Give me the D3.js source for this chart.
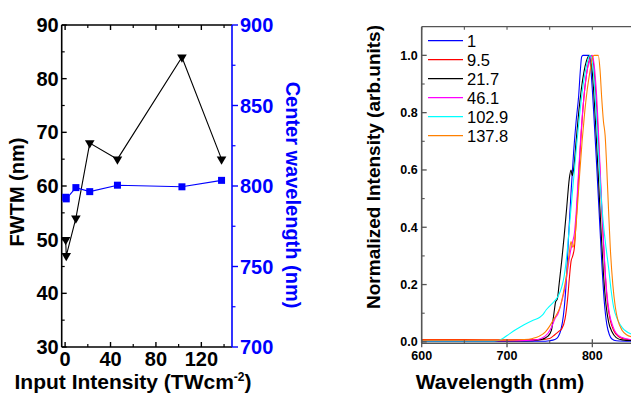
<!DOCTYPE html>
<html>
<head>
<meta charset="utf-8">
<script src="https://cdn.jsdelivr.net/npm/d3@7"></script>
<style>
  html, body { margin: 0; padding: 0; background: #fff; }
  svg { display: block; font-family: Arial, "Liberation Sans", sans-serif; }
</style>
</head>
<body>
<svg id="chart" width="631" height="396"></svg>
<script>
// ---- Left panel: FWTM and centre wavelength vs input intensity ----
const intensity = [0.5, 1, 9.5, 21.7, 46.1, 102.9, 137.8];
const fwtm = [50, 47, 54, 68, 65, 84, 65];
const centerWl = [793, 792, 799, 796.5, 800.5, 799.5, 803.5];

const leftXTicks = [0, 40, 80, 120];
const leftXMinor = [20, 60, 100, 140];
const fwtmTicks = [30, 40, 50, 60, 70, 80, 90];
const fwtmMinor = [35, 45, 55, 65, 75, 85];
const wlTicks = [700, 750, 800, 850, 900];
const wlMinor = [725, 775, 825, 875];

// ---- Right panel: normalized spectra, one per input intensity ----
const specLabels = ["1", "9.5", "21.7", "46.1", "102.9", "137.8"];
const specColors = ["#0000ff", "#ff0000", "#000000", "#ff00ff", "#00ffff", "#ff8000"];

const spec1 = [[600,0.002],[700,0.002],[740,0.002],[750,0.004],[756,0.008],[760,0.018],[763,0.04],[766,0.09],[768,0.15],[770,0.24],[772,0.36],[775,0.52],[778,0.66],[781,0.77],[784,0.86],[786,0.95],[787.5,0.995],[789,1.0],[796,1.0],[798,0.96],[800,0.88],[802,0.78],[805,0.62],[808,0.45],[811,0.28],[814,0.14],[817,0.06],[820,0.025],[823,0.01],[828,0.004],[850,0.002]];
const spec9_5 = [[600,0.008],[650,0.008],[700,0.007],[740,0.008],[750,0.012],[756,0.025],[760,0.035],[764,0.045],[768,0.08],[771,0.15],[773,0.22],[775,0.28],[777,0.3],[779,0.33],[781,0.42],[784,0.58],[787,0.73],[790,0.85],[793,0.93],[796,0.98],[799,1.0],[801,0.98],[803,0.91],[806,0.77],[809,0.59],[812,0.4],[815,0.24],[818,0.13],[821,0.075],[825,0.04],[830,0.02],[835,0.012],[850,0.006]];
const spec21_7 = [[600,0.003],[700,0.003],[730,0.004],[740,0.008],[748,0.02],[752,0.04],[755,0.1],[757,0.14],[759,0.15],[761,0.2],[764,0.28],[767,0.37],[770,0.47],[773,0.57],[775,0.6],[776.5,0.58],[778,0.6],[781,0.7],[784,0.8],[787,0.88],[790,0.94],[793,0.98],[797,1.0],[799,0.97],[801,0.9],[804,0.75],[807,0.58],[810,0.4],[813,0.24],[816,0.13],[819,0.07],[823,0.035],[828,0.015],[835,0.007],[850,0.004]];
const spec46_1 = [[600,0.004],[700,0.004],[730,0.006],[740,0.012],[748,0.03],[752,0.05],[756,0.08],[760,0.1],[764,0.14],[768,0.19],[771,0.25],[774,0.31],[777,0.35],[779,0.38],[781,0.45],[784,0.6],[787,0.74],[790,0.85],[793,0.93],[797,0.985],[800,1.0],[802,0.97],[805,0.86],[808,0.68],[811,0.48],[814,0.3],[817,0.17],[820,0.1],[824,0.055],[828,0.03],[835,0.015],[845,0.008],[850,0.006]];
const spec102_9 = [[600,0.003],[680,0.003],[690,0.005],[695,0.012],[700,0.022],[710,0.042],[720,0.06],[730,0.075],[738,0.085],[742,0.095],[746,0.112],[750,0.125],[755,0.14],[760,0.16],[764,0.19],[767,0.23],[770,0.3],[773,0.4],[776,0.5],[779,0.6],[782,0.7],[785,0.79],[788,0.87],[791,0.93],[794,0.975],[797,1.0],[799,0.99],[801,0.95],[804,0.82],[807,0.66],[810,0.52],[813,0.41],[816,0.33],[819,0.26],[822,0.18],[825,0.12],[830,0.075],[835,0.05],[840,0.036],[845,0.028],[850,0.024]];
const spec137_8 = [[600,0.006],[700,0.006],[720,0.008],[730,0.012],[738,0.02],[745,0.035],[750,0.055],[755,0.08],[758,0.095],[762,0.12],[766,0.17],[770,0.24],[773,0.31],[775,0.35],[777,0.33],[779,0.35],[782,0.45],[785,0.58],[788,0.7],[791,0.8],[794,0.88],[797,0.94],[800,0.99],[802,1.0],[807,1.0],[809,0.95],[811,0.85],[813,0.77],[815,0.72],[817,0.6],[819,0.46],[821,0.33],[824,0.2],[827,0.12],[830,0.075],[835,0.04],[840,0.025],[850,0.015]];
const spectra = [spec1, spec9_5, spec21_7, spec46_1, spec102_9, spec137_8];

const specXTicks = [600, 700, 800];
const specXMinor = [650, 750, 850];
const specYTicks = [0.0, 0.2, 0.4, 0.6, 0.8, 1.0];
const specYMinor = [0.1, 0.3, 0.5, 0.7, 0.9];

const svg = d3.select("#chart");

// ================= Left panel =================
const xL = d3.scaleLinear().domain([-3, 147]).range([61.7, 232]);
const yL = d3.scaleLinear().domain([30, 90]).range([347, 25]);
const yR = d3.scaleLinear().domain([700, 900]).range([347, 25]);

const left = svg.append("g");
const [lx0, lx1] = xL.range();
const [ly0, ly1] = yL.range();

function tickLines(g, vals, fn, color, width) {
  g.selectAll(null).data(vals).enter().append("line")
    .each(function(v) {
      const c = fn(v);
      d3.select(this).attr("x1", c[0]).attr("y1", c[1]).attr("x2", c[2]).attr("y2", c[3]);
    })
    .attr("stroke", color).attr("stroke-width", width);
}

// frame: black left/top/bottom, blue right
left.append("line").attr("x1", lx0).attr("x2", lx1).attr("y1", ly0).attr("y2", ly0).attr("stroke", "#000").attr("stroke-width", 1.6);
left.append("line").attr("x1", lx0).attr("x2", lx1).attr("y1", ly1).attr("y2", ly1).attr("stroke", "#000").attr("stroke-width", 1.6);
left.append("line").attr("x1", lx0).attr("x2", lx0).attr("y1", ly0).attr("y2", ly1).attr("stroke", "#000").attr("stroke-width", 1.6);
left.append("line").attr("x1", lx1).attr("x2", lx1).attr("y1", ly0).attr("y2", ly1).attr("stroke", "#0000ff").attr("stroke-width", 1.6);

// left y ticks (inward)
tickLines(left, fwtmTicks, v => [lx0, yL(v), lx0 + 5, yL(v)], "#000", 1.4);
tickLines(left, fwtmMinor, v => [lx0, yL(v), lx0 + 3, yL(v)], "#000", 1.2);
// bottom and top x ticks (inward)
tickLines(left, leftXTicks, v => [xL(v), ly0, xL(v), ly0 - 5], "#000", 1.4);
tickLines(left, leftXMinor, v => [xL(v), ly0, xL(v), ly0 - 3], "#000", 1.2);
tickLines(left, leftXTicks, v => [xL(v), ly1, xL(v), ly1 + 5], "#000", 1.4);
tickLines(left, leftXMinor, v => [xL(v), ly1, xL(v), ly1 + 3], "#000", 1.2);
// right y ticks (outward, blue)
tickLines(left, wlTicks, v => [lx1, yR(v), lx1 + 6, yR(v)], "#0000ff", 1.4);
tickLines(left, wlMinor, v => [lx1, yR(v), lx1 + 3.5, yR(v)], "#0000ff", 1.2);

// tick labels
left.selectAll(null).data(fwtmTicks).enter().append("text")
  .attr("x", lx0 - 3).attr("y", v => yL(v) + 7)
  .attr("text-anchor", "end").attr("font-size", 20).attr("font-weight", "bold")
  .text(d => d);
left.selectAll(null).data(leftXTicks).enter().append("text")
  .attr("x", v => xL(v)).attr("y", 366)
  .attr("text-anchor", "middle").attr("font-size", 20).attr("font-weight", "bold")
  .text(d => d);
left.selectAll(null).data(wlTicks).enter().append("text")
  .attr("x", lx1 + 8).attr("y", v => yR(v) + 7)
  .attr("text-anchor", "start").attr("font-size", 20).attr("font-weight", "bold")
  .attr("fill", "#0000ff").text(d => d);

// axis titles
left.append("text").attr("transform", "translate(24,192) rotate(-90)")
  .attr("text-anchor", "middle").attr("font-size", 20).attr("font-weight", "bold")
  .text("FWTM (nm)");
left.append("text").attr("transform", "translate(286,195) rotate(90)")
  .attr("text-anchor", "middle").attr("font-size", 20).attr("font-weight", "bold")
  .attr("fill", "#0000ff").text("Center wavelength (nm)");
const xt = left.append("text").attr("x", 133).attr("y", 389)
  .attr("text-anchor", "middle").attr("font-size", 21).attr("font-weight", "bold");
xt.append("tspan").text("Input Intensity (TWcm");
xt.append("tspan").attr("font-size", 12).attr("dy", -8).text("-2");
xt.append("tspan").attr("dy", 8).text(")");

// FWTM series: black line with down-triangles
const fwtmPts = intensity.map((x, i) => [x, fwtm[i]]);
left.append("path").datum(fwtmPts)
  .attr("fill", "none").attr("stroke", "#000").attr("stroke-width", 1.1)
  .attr("d", d3.line().x(d => xL(d[0])).y(d => yL(d[1])));
const tri = d3.symbol().type(d3.symbolTriangle).size(40);
left.selectAll(null).data(fwtmPts).enter().append("path")
  .attr("d", tri)
  .attr("transform", d => `translate(${xL(d[0])},${yL(d[1])}) rotate(180)`)
  .attr("fill", "#000");

// centre wavelength series: blue line with squares
const wlPts = intensity.map((x, i) => [x, centerWl[i]]);
left.append("path").datum(wlPts)
  .attr("fill", "none").attr("stroke", "#0000ff").attr("stroke-width", 1.1)
  .attr("d", d3.line().x(d => xL(d[0])).y(d => yR(d[1])));
left.selectAll(null).data(wlPts).enter().append("rect")
  .attr("x", d => xL(d[0]) - 3.5).attr("y", d => yR(d[1]) - 3.5)
  .attr("width", 7).attr("height", 7).attr("fill", "#0000ff");

// ================= Right panel =================
const xS = d3.scaleLinear().domain([600, 850]).range([421.7, 635]);
const yS = d3.scaleLinear().domain([-0.005, 1.1]).range([343.3, 26.7]);
const right = svg.append("g");
const [sx0, sx1] = xS.range();
const [sy0, sy1] = yS.range();
const axisGray = "#555";

right.append("defs").append("clipPath").attr("id", "specClip")
  .append("rect").attr("x", sx0).attr("y", sy1).attr("width", sx1 - sx0).attr("height", sy0 - sy1);

// spectra
const specLine = d3.line().x(d => xS(d[0])).y(d => yS(d[1])).curve(d3.curveMonotoneX);
const curves = right.append("g").attr("clip-path", "url(#specClip)");
spectra.forEach((s, i) => {
  curves.append("path").datum(s)
    .attr("fill", "none").attr("stroke", specColors[i]).attr("stroke-width", 1.1)
    .attr("d", specLine);
});

// frame
right.append("line").attr("x1", sx0).attr("x2", sx1).attr("y1", sy0).attr("y2", sy0).attr("stroke", axisGray).attr("stroke-width", 1.6);
right.append("line").attr("x1", sx0).attr("x2", sx1).attr("y1", sy1).attr("y2", sy1).attr("stroke", axisGray).attr("stroke-width", 1.2);
right.append("line").attr("x1", sx0).attr("x2", sx0).attr("y1", sy0).attr("y2", sy1).attr("stroke", axisGray).attr("stroke-width", 1.6);

tickLines(right, specYTicks, v => [sx0, yS(v), sx0 + 5, yS(v)], axisGray, 1.3);
tickLines(right, specYMinor, v => [sx0, yS(v), sx0 + 3, yS(v)], axisGray, 1.1);
tickLines(right, specXTicks, v => [xS(v), sy0 + 4, xS(v), sy0 - 4], axisGray, 1.3);
tickLines(right, specXMinor, v => [xS(v), sy0, xS(v), sy0 - 3], axisGray, 1.1);
tickLines(right, specXTicks.concat(specXMinor), v => [xS(v), sy1, xS(v), sy1 + 3], axisGray, 1.1);

right.selectAll(null).data(specYTicks).enter().append("text")
  .attr("x", sx0 - 4).attr("y", v => yS(v) + 4.5)
  .attr("text-anchor", "end").attr("font-size", 12.5).attr("font-weight", "bold")
  .text(d => d.toFixed(1));
right.selectAll(null).data(specXTicks).enter().append("text")
  .attr("x", v => xS(v)).attr("y", 360)
  .attr("text-anchor", "middle").attr("font-size", 12.5).attr("font-weight", "bold")
  .text(d => d);

right.append("text").attr("x", 500).attr("y", 389)
  .attr("text-anchor", "middle").attr("font-size", 21).attr("font-weight", "bold")
  .text("Wavelength (nm)");
right.append("text").attr("transform", "translate(380,167) rotate(-90)")
  .attr("text-anchor", "middle").attr("font-size", 19).attr("font-weight", "bold")
  .text("Normalized Intensity (arb.units)");

// legend
const leg = right.append("g");
specLabels.forEach((lab, i) => {
  const y = 40.7 + i * 19;
  leg.append("line").attr("x1", 428).attr("x2", 463).attr("y1", y).attr("y2", y)
    .attr("stroke", specColors[i]).attr("stroke-width", 1.2);
  leg.append("text").attr("x", 467).attr("y", y + 6)
    .attr("font-size", 16.5).text(lab);
});
</script>
</body>
</html>
